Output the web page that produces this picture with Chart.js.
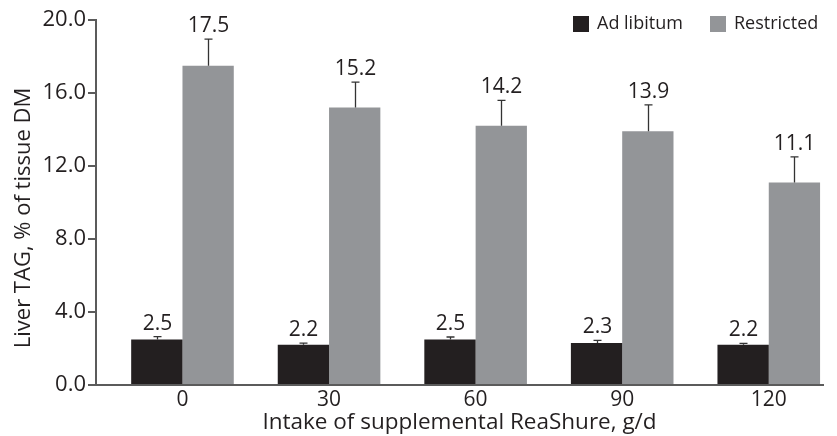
<!DOCTYPE html>
<html>
<head>
<meta charset="utf-8">
<script src="https://cdn.jsdelivr.net/npm/chart.js@4/dist/chart.umd.min.js"></script>
<style>
  html, body { margin: 0; padding: 0; background: #fff; }
  #wrap { width: 837px; height: 436px; }
</style>
</head>
<body>
<div id="wrap"><canvas id="chart" width="837" height="436"></canvas></div>
<script>
// Values
var intake = ['0', '30', '60', '90', '120'];
var adLibitum = [2.5, 2.2, 2.5, 2.3, 2.2];
var adLibitumSE = [0.15, 0.1, 0.13, 0.15, 0.08];
var restricted = [17.5, 15.2, 14.2, 13.9, 11.1];
var restrictedSE = [1.45, 1.4, 1.4, 1.45, 1.4];
var yTicks = [0, 4, 8, 12, 16, 20];

var INK = '#231f20';
var AXIS = '#5b5b5b';
var FONT = "'Open Sans', sans-serif";

function points(vals) {
    return vals.map(function (v, i) { return {x: i, y: v}; });
}

// error bars (upper only) and value labels above them
var errorBars = {
    id: 'errorBars',
    afterDatasetsDraw: function (chart) {
        var ctx = chart.ctx;
        var y = chart.scales.y;
        var errs = [adLibitumSE, restrictedSE];
        ctx.save();
        chart.data.datasets.forEach(function (ds, di) {
            var meta = chart.getDatasetMeta(di);
            meta.data.forEach(function (bar, i) {
                var v = ds.data[i].y;
                var top = y.getPixelForValue(v + errs[di][i]);
                var x = Math.round(bar.x) + 0.5;
                ctx.strokeStyle = '#333';
                ctx.lineWidth = 1.3;
                ctx.beginPath();
                ctx.moveTo(x, bar.y);
                ctx.lineTo(x, top);
                ctx.moveTo(x - 4, top);
                ctx.lineTo(x + 4, top);
                ctx.stroke();
                ctx.fillStyle = INK;
                ctx.font = '21px ' + FONT;
                ctx.textAlign = 'center';
                ctx.textBaseline = 'alphabetic';
                ctx.fillText(v.toFixed(1), x, top - 7);
            });
        });
        ctx.restore();
    }
};

// legend in the top right corner and the y axis title
var extras = {
    id: 'extras',
    afterDraw: function (chart) {
        var ctx = chart.ctx;
        var items = [
            {text: 'Ad libitum', color: INK, x: 573},
            {text: 'Restricted', color: '#939598', x: 710}
        ];
        ctx.save();
        ctx.font = '18px ' + FONT;
        ctx.textBaseline = 'middle';
        ctx.textAlign = 'left';
        items.forEach(function (it) {
            ctx.fillStyle = it.color;
            ctx.fillRect(it.x, 16, 16, 16);
            ctx.fillStyle = INK;
            ctx.fillText(it.text, it.x + 24, 24);
        });

        ctx.translate(24, 218);
        ctx.rotate(-Math.PI / 2);
        ctx.font = '22px ' + FONT;
        ctx.textAlign = 'center';
        ctx.fillText('Liver TAG, % of tissue DM', 0, 0);
        ctx.restore();
    }
};

new Chart(document.getElementById('chart'), {
    type: 'bar',
    data: {
        datasets: [{
            label: 'Ad libitum',
            data: points(adLibitum),
            backgroundColor: INK
        }, {
            label: 'Restricted',
            data: points(restricted),
            backgroundColor: '#939598'
        }]
    },
    options: {
        responsive: false,
        animation: false,
        layout: {padding: {top: 20, right: 14, left: 0, bottom: 0}},
        datasets: {bar: {categoryPercentage: 0.7, barPercentage: 1.0}},
        plugins: {legend: {display: false}, tooltip: {enabled: false}},
        scales: {
            x: {
                type: 'linear',
                offset: false,
                min: -0.59,
                max: 4.37,
                afterBuildTicks: function (scale) {
                    scale.ticks = intake.map(function (c, i) { return {value: i}; });
                },
                afterFit: function (scale) { scale.height = 51; },
                grid: {display: false},
                border: {display: true, color: AXIS, width: 2},
                ticks: {
                    color: INK,
                    font: {family: FONT, size: 21},
                    padding: -6,
                    maxRotation: 0,
                    callback: function (v) { return intake[v]; }
                },
                title: {
                    display: true,
                    text: 'Intake of supplemental ReaShure, g/d',
                    color: INK,
                    font: {family: FONT, size: 22.5},
                    padding: {top: 0, bottom: 0}
                }
            },
            y: {
                min: 0,
                max: 20,
                afterBuildTicks: function (scale) {
                    scale.ticks = yTicks.map(function (v) { return {value: v}; });
                },
                afterFit: function (scale) { scale.width = 96; },
                grid: {drawOnChartArea: false, drawTicks: true, tickLength: 8, color: AXIS, lineWidth: 2},
                border: {display: true, color: AXIS, width: 2},
                ticks: {
                    color: INK,
                    font: {family: FONT, size: 22},
                    padding: 2,
                    callback: function (v) { return v.toFixed(1); }
                }
            }
        }
    },
    plugins: [errorBars, extras]
});
</script>
</body>
</html>
